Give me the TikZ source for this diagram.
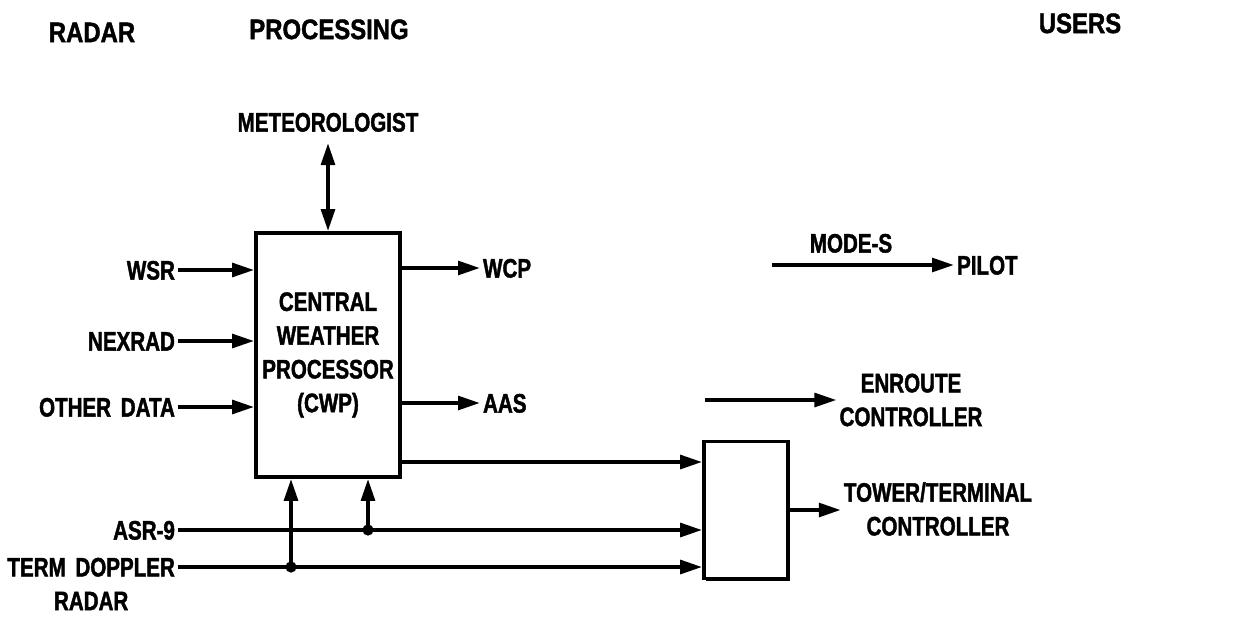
\documentclass[tikz,border=0pt]{standalone}
\usepackage{fontspec}
\newfontfamily\labfont{Liberation Sans}[FakeStretch=0.77,FakeBold=1.5]
\newfontfamily\titfont{Liberation Sans}[FakeStretch=0.85,FakeBold=1.5]
\usetikzlibrary{arrows.meta,shadows}
\begin{document}
\begin{tikzpicture}[x=0.025cm,y=-0.025cm,
  wire/.style={line width=2.8pt},
  arr/.style={wire,-{Triangle[length=0.55cm,width=0.34cm]}},
  dblarr/.style={wire,{Triangle[length=0.55cm,width=0.34cm]}-{Triangle[length=0.55cm,width=0.34cm]}},
  lab/.style={font=\labfont\bfseries\fontsize{19}{24}\selectfont,inner xsep=2pt,inner ysep=0pt,text height=13.6pt,text depth=0pt},
  mlab/.style={font=\labfont\bfseries\fontsize{19}{24}\selectfont,inner xsep=2pt,inner ysep=0pt,align=center},
  title/.style={font=\titfont\bfseries\fontsize{20}{24}\selectfont,inner sep=0pt,text height=14.3pt,text depth=0pt},
  blockbox/.style={draw,line width=2.6pt,fill=white,drop shadow={shadow xshift=1.6pt,shadow yshift=-1.6pt,opacity=1,fill=black}},
  junction/.style={circle,fill=black,inner sep=0pt,minimum size=8pt}
]
\useasboundingbox (0,0) rectangle (1254,626);

% titles
\node[title] (tradar) at (92,32) {RADAR};
\node[title] (tproc) at (329,29) {PROCESSING};
\node[title] (tusers) at (1080,23) {USERS};

% blocks
\node[blockbox,mlab,minimum width=3.6cm,minimum height=6.1cm] (cwp) at (328,355)
  {CENTRAL\\WEATHER\\PROCESSOR\\(CWP)};
\node[blockbox,minimum width=2.1cm,minimum height=3.43cm] (box2) at (746,510) {};

% labels
\node[lab] (met) at (328,122) {METEOROLOGIST};
\node[lab,anchor=east] (wsr) at (178,270) {WSR};
\node[lab,anchor=east] (nex) at (178,341) {NEXRAD};
\node[lab,anchor=east] (oth) at (178,407) {OTHER\hspace{0.15em} DATA};
\node[lab,anchor=east] (asr) at (178,530) {ASR-9};
\node[mlab,anchor=north east] (tdr) at (178,557.5) {TERM\hspace{0.15em} DOPPLER\\RADAR};
\node[lab,anchor=west] (wcp) at (480,268) {WCP};
\node[lab,anchor=west] (aas) at (480,403) {AAS};
\node[lab] (modes) at (851,243) {MODE-S};
\node[lab,anchor=west] (pilot) at (954,265) {PILOT};
\node[mlab] (enr) at (911,400) {ENROUTE\\CONTROLLER};
\node[mlab] (tow) at (938,509) {TOWER/TERMINAL\\CONTROLLER};

% free ends and junctions
\coordinate (ms0) at (772,265);
\coordinate (en0) at (705,400);
\coordinate (o3) at (400,462);
\coordinate (tdrout) at (178,567);
\node[junction] (j1) at (368,530) {};
\node[junction] (j2) at (291,567) {};

% connectors
\draw[dblarr,shorten <=0.28cm] (met.south -| cwp.north) -- (cwp.north);
\draw[arr] (wsr.east) -- (wsr.east -| cwp.west);
\draw[arr] (nex.east) -- (nex.east -| cwp.west);
\draw[arr] (oth.east) -- (oth.east -| cwp.west);
\draw[arr] (cwp.east |- wcp.west) -- (wcp.west);
\draw[arr] (cwp.east |- aas.west) -- (aas.west);
\draw[arr] (ms0) -- (pilot.west);
\draw[arr] (en0) -- (enr.west);
\draw[arr] (o3) -- (o3 -| box2.west);
\draw[arr] (asr.east) -- (asr.east -| box2.west);
\draw[arr] (tdrout) -- (tdrout -| box2.west);
\draw[arr] (j1.center) -- (j1.center |- cwp.south);
\draw[arr] (j2.center) -- (j2.center |- cwp.south);
\draw[arr] (box2.east) -- (box2.east -| tow.west);
\end{tikzpicture}
\end{document}
